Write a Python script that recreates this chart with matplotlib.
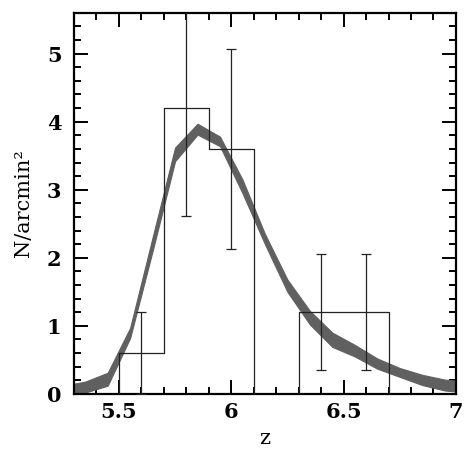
import numpy as np
import matplotlib
matplotlib.use("Agg")
import matplotlib.pyplot as plt
from matplotlib.ticker import MultipleLocator

# histogram (step outline)
bin_edges = [5.5, 5.7, 5.9, 6.1, 6.3, 6.5, 6.7]
bin_counts = [0.6, 4.2, 3.6, 0.0, 1.2, 1.2]

# error bars
err_x = [5.6, 5.8, 6.0, 6.4, 6.6]
err_y = [0.6, 4.2, 3.6, 1.2, 1.2]
err_lo = [0.0, 2.62, 2.13, 0.35, 0.35]
err_hi = [1.2, 5.8, 5.07, 2.05, 2.05]

# model band (upper / lower edge)
band_x = [5.25, 5.35, 5.45, 5.55, 5.65, 5.75, 5.85, 5.95, 6.05, 6.15, 6.25,
          6.35, 6.45, 6.55, 6.65, 6.75, 6.85, 6.95, 7.05]
band_hi = [0.12, 0.18, 0.31, 0.97, 2.30, 3.62, 3.97, 3.78, 3.15, 2.35, 1.68,
           1.22, 0.90, 0.72, 0.52, 0.38, 0.28, 0.21, 0.18]
band_lo = [0.00, 0.02, 0.12, 0.82, 2.10, 3.42, 3.81, 3.64, 2.95, 2.20, 1.50,
           1.02, 0.69, 0.55, 0.37, 0.25, 0.13, 0.05, 0.02]

plt.rcParams['font.family'] = ['DejaVu Serif']

fig = plt.figure(figsize=(4.71, 4.58), dpi=100)
ax = fig.add_axes([0.157, 0.140, 0.811, 0.832])

ax.fill_between(band_x, band_lo, band_hi, color="#606060", lw=0.8,
                edgecolor="#606060", zorder=2)

# step histogram, with a gap where the count drops to zero
xs = [bin_edges[0]]
ys = [0]
for i, c in enumerate(bin_counts):
    xs += [bin_edges[i], bin_edges[i + 1]]
    ys += [c, c]
xs.append(bin_edges[-1])
ys.append(0)
ax.plot(xs, ys, color="#222222", lw=0.9, zorder=3)

yerr = [np.array(err_y) - np.array(err_lo), np.array(err_hi) - np.array(err_y)]
ax.errorbar(err_x, err_y, yerr=yerr, fmt="none", ecolor="#222222",
            elinewidth=0.9, capsize=3.5, capthick=0.9, zorder=3)

ax.set_xlim(5.3, 7.0)
ax.set_ylim(0, 5.6)
ax.xaxis.set_major_locator(MultipleLocator(0.5))
ax.xaxis.set_minor_locator(MultipleLocator(0.1))
ax.yaxis.set_major_locator(MultipleLocator(1))
ax.yaxis.set_minor_locator(MultipleLocator(0.2))
ax.set_xticks([5.5, 6, 6.5, 7])
ax.set_xticklabels(["5.5", "6", "6.5", "7"])

ax.tick_params(which="both", direction="in", top=True, right=True, width=1.4,
               labelsize=15)
ax.tick_params(which="major", length=10)
ax.tick_params(axis="x", which="major", pad=6)
ax.tick_params(axis="y", which="major", pad=9)
ax.tick_params(which="minor", length=5)
for lab in ax.get_xticklabels() + ax.get_yticklabels():
    lab.set_fontweight("bold")
for s in ax.spines.values():
    s.set_linewidth(1.6)

ax.set_xlabel("z", fontsize=15, labelpad=5)
ax.set_ylabel("N/arcmin²", fontsize=15, labelpad=10)

fig.savefig("out.png", dpi=100)
